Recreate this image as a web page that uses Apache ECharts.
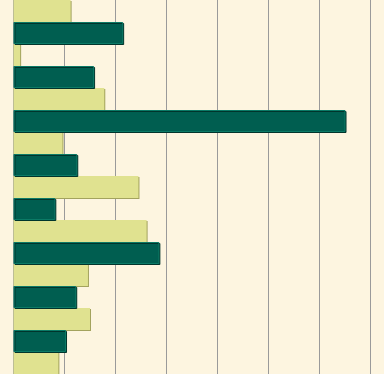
<!DOCTYPE html>
<html>
<head>
<meta charset="utf-8">
<script src="https://cdn.jsdelivr.net/npm/echarts@6/dist/echarts.min.js"></script>
<style>html,body{margin:0;padding:0;background:#fdf5e0;}#c{width:384px;height:374px;}</style>
</head>
<body>
<div id="c"></div>
<script>
var categories = ['1', '2', '3', '4', '5', '6', '7', '8', '9'];
var lightValues = [11.2, 1.3, 17.8, 9.6, 24.5, 26.1, 14.6, 15.0, 8.8];
var darkValues = [21.5, 15.8, 65.1, 12.5, 8.2, 28.6, 12.3, 10.3, null];
var xTicks = { min: 0, max: 80, interval: 10 };

var chart = echarts.init(document.getElementById('c'));
chart.setOption({
  backgroundColor: '#fdf5e0',
  animation: false,
  grid: { left: 13.5, top: 0, width: 408, height: 396, containLabel: false, outerBoundsMode: 'none' },
  xAxis: {
    type: 'value', min: xTicks.min, max: xTicks.max, interval: xTicks.interval,
    axisLabel: { show: false }, axisLine: { show: false }, axisTick: { show: false },
    splitLine: { show: true, lineStyle: { color: '#9a9a9a', width: 1 } }
  },
  yAxis: {
    type: 'category', data: categories, inverse: true,
    axisLabel: { show: false }, axisLine: { show: false }, axisTick: { show: false },
    splitLine: { show: false }
  },
  series: [
    {
      type: 'bar', data: lightValues, barGap: '0%', barCategoryGap: '0%',
      itemStyle: { color: '#e0e290', borderColor: '#e0e290', borderWidth: 0,
        shadowColor: '#a3a35e', shadowOffsetX: 1, shadowOffsetY: 1, shadowBlur: 0 }
    },
    {
      type: 'bar', data: darkValues, barGap: '0%', barCategoryGap: '0%',
      itemStyle: { color: '#005e50', borderColor: '#0b7a66', borderWidth: 1,
        shadowColor: '#00352c', shadowOffsetX: 1, shadowOffsetY: 1, shadowBlur: 0 }
    }
  ]
});
</script>
</body>
</html>
